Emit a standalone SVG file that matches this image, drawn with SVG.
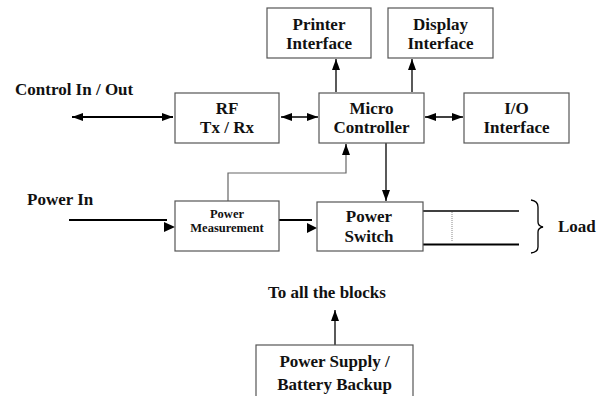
<svg xmlns="http://www.w3.org/2000/svg" width="605" height="396" viewBox="0 0 605 396">
<style>
.box{fill:#fff;stroke:#555;stroke-width:1.2}
text{font-family:"Liberation Serif","Times New Roman",serif;font-weight:bold;fill:#111}
.t{font-size:17px;text-anchor:middle}
.s{font-size:12.5px;text-anchor:middle}
.lbl{font-size:17px}
.ln{fill:none;stroke:#000;stroke-width:1.3}
.thk{fill:none;stroke:#000;stroke-width:2}
.gr{fill:none;stroke:#666;stroke-width:1.2}
.ah{fill:#000}
</style>
<defs>
<marker id="arr" markerUnits="userSpaceOnUse" markerWidth="12" markerHeight="10" viewBox="0 0 12 10" refX="11" refY="5" orient="auto-start-reverse">
<path d="M0,1 L11,5 L0,9 Z" fill="#000"/>
</marker>
</defs>
<g id="connectors">
<line class="thk" x1="72" y1="117" x2="173" y2="117" marker-start="url(#arr)" marker-end="url(#arr)"/>
<line class="ln" x1="281" y1="117" x2="318" y2="117" marker-start="url(#arr)" marker-end="url(#arr)"/>
<line class="ln" x1="425" y1="117" x2="463" y2="117" marker-start="url(#arr)" marker-end="url(#arr)"/>
<line class="ln" x1="336" y1="92" x2="336" y2="59" marker-end="url(#arr)"/>
<line class="ln" x1="412" y1="92" x2="412" y2="59" marker-end="url(#arr)"/>
<polyline class="gr" points="228,201 228,173 346,173 346,153"/>
<line class="ln" x1="346" y1="155" x2="346" y2="144" marker-end="url(#arr)"/>
<line class="ln" x1="386" y1="143" x2="386" y2="201" marker-end="url(#arr)"/>
<line class="thk" x1="69" y1="220" x2="167" y2="220"/>
<polygon class="ah" points="164,222 175,227 164,232"/>
<line class="thk" x1="279" y1="220" x2="312" y2="220"/>
<polygon class="ah" points="307,223 317,228 307,233"/>
<line class="ln" x1="423" y1="211" x2="519" y2="211"/>
<line class="thk" x1="423" y1="244.5" x2="519" y2="244.5"/>
<line x1="452" y1="212" x2="452" y2="241" stroke="#888" stroke-width="1" stroke-dasharray="1,1"/>
<path class="ln" d="M531,200 Q538,201 538,207 L538,222 Q538,226 543,227 Q538,228 538,232 L538,247 Q538,252 531,253"/>
<line class="ln" x1="335" y1="345" x2="335" y2="310" marker-end="url(#arr)"/>
</g>
<g id="printer"><rect class="box" x="267" y="8" width="104" height="50"/><text class="t" x="319" y="30">Printer</text><text class="t" x="319" y="49">Interface</text></g>
<g id="display"><rect class="box" x="388" y="8" width="105" height="50"/><text class="t" x="440.5" y="30">Display</text><text class="t" x="440.5" y="49">Interface</text></g>
<g id="rf"><rect class="box" x="175" y="93" width="104" height="50"/><text class="t" x="227" y="114">RF</text><text class="t" x="227" y="133">Tx / Rx</text></g>
<g id="micro"><rect class="box" x="319" y="93" width="105" height="50"/><text class="t" x="371.5" y="114">Micro</text><text class="t" x="371.5" y="133">Controller</text></g>
<g id="io"><rect class="box" x="464" y="93" width="105" height="50"/><text class="t" x="516.5" y="114">I/O</text><text class="t" x="516.5" y="133">Interface</text></g>
<g id="measure"><rect class="box" x="175" y="201" width="104" height="50"/><text class="s" x="227" y="218">Power</text><text class="s" x="227" y="232">Measurement</text></g>
<g id="switch"><rect class="box" x="317" y="202" width="106" height="49"/><text class="t" x="369" y="222">Power</text><text class="t" x="369" y="242">Switch</text></g>
<g id="supply"><rect class="box" x="256" y="345" width="157" height="54"/><text class="t" x="334.5" y="367">Power Supply /</text><text class="t" x="334.5" y="390">Battery Backup</text></g>
<g id="labels">
<text class="lbl" x="15" y="95">Control In / Out</text>
<text class="lbl" x="27" y="205">Power In</text>
<text class="lbl" x="558" y="232">Load</text>
<text class="lbl" x="268" y="298">To all the blocks</text>
</g>
</svg>
